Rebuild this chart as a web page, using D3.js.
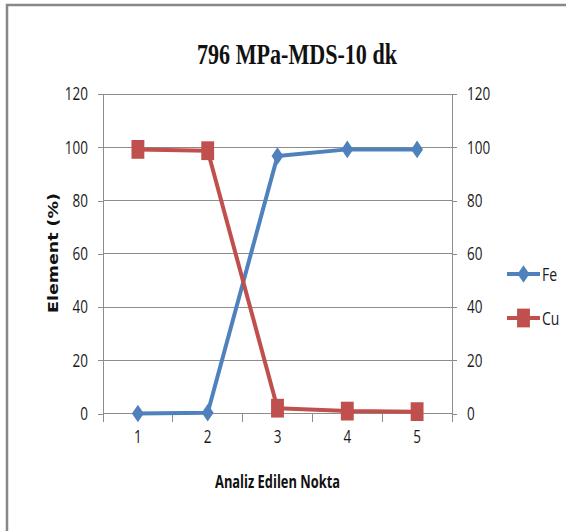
<!DOCTYPE html>
<html>
<head>
<meta charset="utf-8">
<script src="https://cdn.jsdelivr.net/npm/d3@7"></script>
<style>
  html, body { margin: 0; padding: 0; background: #fff; overflow: hidden; }
  svg { display: block; }
  text { -webkit-font-smoothing: antialiased; }
</style>
</head>
<body>
<svg id="chart" width="566" height="531"></svg>
<script>
// Measurement points along the sample and element contents (%)
const points = [1, 2, 3, 4, 5];
const fe = [0.0, 0.3, 96.7, 99.2, 99.2];
const cu = [99.2, 98.7, 2.0, 0.9, 0.7];
const yTicks = [0, 20, 40, 60, 80, 100, 120];
const seriesNames = ["Fe", "Cu"];

const W = 566, H = 531;
const plot = { left: 103, right: 452, top: 94, bottom: 413.5 };
const colors = { Fe: "#4F81BD", Cu: "#C0504D" };
const gridColor = "#8c8c8c";
const textColor = "#1a1a1a";
const tickFont = "'Open Sans', 'Liberation Sans', sans-serif";
const K = 1.33; // vertical text stretch

const svg = d3.select("#chart");

// outer frame (right and bottom edges run off the canvas)
svg.append("path")
  .attr("d", `M${W + 5},5 H7 V${H + 5}`)
  .attr("fill", "none")
  .attr("stroke", "#888").attr("stroke-width", 2.5);

const x = d3.scaleBand().domain(points).range([plot.left, plot.right]);
const y = d3.scaleLinear().domain([0, 120]).range([plot.bottom, plot.top]);

// turn a text's x/y position into a translate + vertical stretch
function stretch(sel, k) {
  sel.each(function () {
    const t = d3.select(this);
    const tx = +t.attr("x") || 0, ty = +t.attr("y") || 0;
    t.attr("x", 0).attr("y", 0)
     .attr("transform", `translate(${tx},${ty}) scale(1,${k})`);
  });
}

// horizontal gridlines
svg.append("g").selectAll("line")
  .data(yTicks)
  .join("line")
  .attr("x1", plot.left).attr("x2", plot.right)
  .attr("y1", d => y(d)).attr("y2", d => y(d))
  .attr("stroke", gridColor).attr("stroke-width", 1)
  .attr("shape-rendering", "crispEdges");

// left and right value axes
const gl = svg.append("g")
  .attr("transform", `translate(${plot.left},0)`)
  .call(d3.axisLeft(y).tickValues(yTicks).tickSize(5).tickPadding(10).tickSizeOuter(0));
const gr = svg.append("g")
  .attr("transform", `translate(${plot.right},0)`)
  .call(d3.axisRight(y).tickValues(yTicks).tickSize(5).tickPadding(10).tickSizeOuter(0));

[gl, gr].forEach(g => {
  g.select(".domain").remove();
  g.selectAll(".tick line").attr("stroke", gridColor).attr("shape-rendering", "crispEdges");
  g.selectAll(".tick text")
    .style("fill", textColor)
    .style("font-family", tickFont)
    .style("font-size", "13.5px")
    .call(stretch, K);
});

// vertical axis lines on both sides
svg.append("g").selectAll("line")
  .data([plot.left, plot.right])
  .join("line")
  .attr("x1", d => d).attr("x2", d => d)
  .attr("y1", plot.top).attr("y2", (d, i) => i === 0 ? plot.bottom + 8 : plot.bottom)
  .attr("stroke", gridColor).attr("shape-rendering", "crispEdges");

// category boundary ticks
const bounds = points.map(p => x(p)).concat([x.range()[1]]);
svg.append("g").selectAll("line")
  .data(bounds)
  .join("line")
  .attr("x1", d => d).attr("x2", d => d)
  .attr("y1", plot.bottom).attr("y2", plot.bottom + 8)
  .attr("stroke", gridColor).attr("shape-rendering", "crispEdges");

// category labels
const gb = svg.append("g")
  .attr("transform", `translate(0,${plot.bottom})`)
  .call(d3.axisBottom(x).tickSize(0).tickPadding(23));
gb.select(".domain").remove();
gb.attr("fill", textColor);
gb.selectAll(".tick text")
  .attr("fill", textColor)
  .style("fill", textColor)
  .attr("dy", "0.35em")
  .style("font-family", tickFont)
  .style("font-size", "13.5px")
  .call(stretch, K);

// series
const series = [
  { name: "Fe", values: fe, symbol: d3.symbolDiamond2, size: 100, sx: 0.95, sy: 1.4 },
  { name: "Cu", values: cu, symbol: d3.symbolSquare, size: 180, sx: 0.96, sy: 1.4 }
];

const line = d3.line()
  .x((d, i) => x(points[i]) + x.bandwidth() / 2)
  .y(d => y(d));

series.forEach(s => {
  svg.append("path")
    .datum(s.values)
    .attr("d", line)
    .attr("fill", "none")
    .attr("stroke", colors[s.name])
    .attr("stroke-width", 4)
    .attr("stroke-linejoin", "round");
});

function marker(g, s, cx, cy) {
  g.append("path")
    .attr("d", d3.symbol().type(s.symbol).size(s.size)())
    .attr("transform", `translate(${cx},${cy}) scale(${s.sx},${s.sy})`)
    .attr("fill", colors[s.name]);
}

series.forEach(s => {
  const g = svg.append("g");
  s.values.forEach((v, i) => marker(g, s, x(points[i]) + x.bandwidth() / 2, y(v)));
});

// legend
const legendY = [274, 318];
series.forEach((s, i) => {
  const g = svg.append("g");
  g.append("line")
    .attr("x1", 507).attr("x2", 540)
    .attr("y1", legendY[i]).attr("y2", legendY[i])
    .attr("stroke", colors[s.name]).attr("stroke-width", 4);
  marker(g, s, 523.5, legendY[i]);
  g.append("text")
    .attr("x", 542).attr("y", legendY[i])
    .attr("dy", "0.35em")
    .style("fill", textColor)
    .style("font-family", tickFont)
    .style("font-size", "14px")
    .text(seriesNames[i])
    .call(stretch, K);
});

// title
svg.append("text")
  .attr("x", 297).attr("y", 63.5)
  .attr("text-anchor", "middle")
  .style("fill", "#111")
  .style("font-family", "'Liberation Serif', 'Times New Roman', serif")
  .style("font-weight", "bold")
  .style("font-size", "22px")
  .attr("textLength", 200)
  .attr("lengthAdjust", "spacingAndGlyphs")
  .text("796 MPa-MDS-10 dk")
  .call(stretch, 1.3);

// x axis title
svg.append("text")
  .attr("x", 277.5).attr("y", 488)
  .attr("text-anchor", "middle")
  .style("fill", "#111")
  .style("font-family", tickFont)
  .style("font-weight", "bold")
  .style("font-size", "13px")
  .attr("textLength", 125)
  .attr("lengthAdjust", "spacingAndGlyphs")
  .text("Analiz Edilen Nokta")
  .call(stretch, K);

// y axis title
svg.append("text")
  .attr("transform", "translate(58,253) rotate(-90)")
  .attr("text-anchor", "middle")
  .style("fill", "#111")
  .style("font-family", "'DejaVu Sans', Verdana, sans-serif")
  .style("font-weight", "bold")
  .style("font-size", "14px")
  .attr("textLength", 120)
  .attr("lengthAdjust", "spacingAndGlyphs")
  .text("Element (%)");
</script>
</body>
</html>
